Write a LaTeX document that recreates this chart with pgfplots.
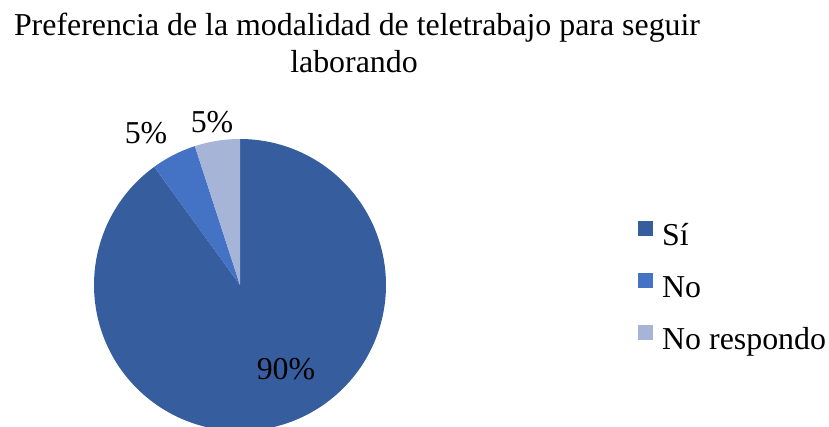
\documentclass[border=0pt]{standalone}
\usepackage{fontspec}
\setmainfont{Liberation Serif}
\usepackage{pgfplots}
\pgfplotsset{compat=1.18}
\usepackage{pgfplotstable}

\definecolor{cSi}{RGB}{54,94,158}
\definecolor{cNo}{RGB}{68,114,196}
\definecolor{cNR}{RGB}{166,180,216}

% share of answers, in percent
\pgfplotstableread{
label value
Si    90
No    5
NR    5
}\piedata

\pgfplotstablegetelem{0}{value}\of\piedata \let\vSi\pgfplotsretval
\pgfplotstablegetelem{1}{value}\of\piedata \let\vNo\pgfplotsretval
\pgfplotstablegetelem{2}{value}\of\piedata \let\vNR\pgfplotsretval

% slices run clockwise from 12 o'clock
\pgfmathsetmacro{\aA}{90}
\pgfmathsetmacro{\aB}{\aA-3.6*\vSi}
\pgfmathsetmacro{\aC}{\aB-3.6*\vNo}
\pgfmathsetmacro{\aD}{\aC-3.6*\vNR}

\newcommand{\bigfont}{\fontsize{32}{38}\selectfont}

\begin{document}
\begin{tikzpicture}
\begin{axis}[
    scale only axis,
    width=829bp, height=427bp,
    xmin=0, xmax=829, ymin=0, ymax=427,
    hide axis,
    legend style={at={(axis cs:638,206)}, anchor=north west,
        draw=none, fill=none, inner sep=0pt,
        font=\fontsize{32}{38}\selectfont,
        nodes={inner sep=0pt, text height=22bp, text depth=6bp},
        row sep=22bp, column sep=9bp},
    legend cell align=left,
    legend image code/.code={\fill[#1] (0bp,1bp) rectangle (15bp,16bp);},
]
\addplot[fill=cSi, draw=none, domain=\aB:\aA, samples=200]
    ({240+146*cos(x)}, {142+146*sin(x)}) -- (axis cs:240,142) -- cycle;
\addplot[fill=cNo, draw=none, domain=\aC:\aB, samples=20]
    ({240+146*cos(x)}, {142+146*sin(x)}) -- (axis cs:240,142) -- cycle;
\addplot[fill=cNR, draw=none, domain=\aD:\aC, samples=20]
    ({240+146*cos(x)}, {142+146*sin(x)}) -- (axis cs:240,142) -- cycle;
\legend{Sí, No, No respondo}

\node[font=\bigfont, anchor=base] at (axis cs:357,391) {Preferencia de la modalidad de teletrabajo para seguir};
\node[font=\bigfont, anchor=base] at (axis cs:354,354) {laborando};

\node[font=\bigfont] at (axis cs:146,294) {5\%};
\node[font=\bigfont] at (axis cs:212,305) {5\%};
\node[font=\bigfont] at (axis cs:286,58) {90\%};
\end{axis}
\pgfresetboundingbox
\path (current axis.south west) rectangle (current axis.north east);
\end{tikzpicture}
\end{document}
